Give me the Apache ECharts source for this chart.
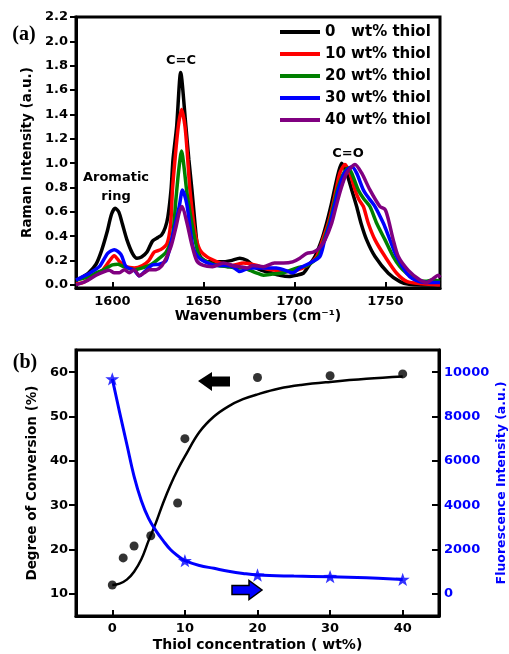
<!DOCTYPE html>
<html><head><meta charset="utf-8">
<script src="https://cdn.jsdelivr.net/npm/echarts@6/dist/echarts.min.js"></script>
<style>html,body{margin:0;padding:0;background:#fff}#c{width:509px;height:654px}</style>
</head><body><div id="c"></div>
<script>
const F = 'DejaVu Sans';
const legendNames = ['0   wt% thiol', '10 wt% thiol', '20 wt% thiol', '30 wt% thiol', '40 wt% thiol'];
const colors = ['#000000', '#ff0000', '#008000', '#0000ff', '#800080'];

// Raman spectra: [wavenumber, intensity]
const spec0 = [[1580,0.04],[1583,0.06],[1587,0.1],[1591,0.17],[1594,0.28],[1597,0.43],[1599.5,0.58],[1601.5,0.63],[1603.5,0.6],[1605.5,0.5],[1608,0.37],[1611,0.26],[1613.5,0.22],[1616,0.23],[1619,0.27],[1622,0.36],[1625,0.39],[1627,0.41],[1629,0.47],[1630.5,0.56],[1632.2,0.78],[1633.3,1.03],[1635.3,1.30],[1637.5,1.745],[1640.4,1.30],[1642,1.03],[1643.7,0.78],[1645.4,0.5],[1646.5,0.34],[1648,0.24],[1652,0.19],[1656,0.19],[1660,0.19],[1665,0.2],[1670,0.22],[1674,0.2],[1678,0.15],[1682,0.12],[1687,0.1],[1692,0.08],[1697,0.07],[1701,0.08],[1704.9,0.096],[1708,0.16],[1711.3,0.233],[1715,0.37],[1717.7,0.507],[1720,0.644],[1722,0.78],[1724.1,0.918],[1726,1.0],[1728.7,0.918],[1731.5,0.78],[1734.2,0.644],[1736.6,0.507],[1739.7,0.37],[1744.3,0.233],[1751.6,0.096],[1758,0.027],[1763,0.005],[1770,0.0],[1780,0.0]];
const spec10 = [[1580,0.01],[1584,0.02],[1589,0.07],[1594.5,0.12],[1598,0.19],[1601,0.24],[1604,0.19],[1607.5,0.15],[1612,0.14],[1616.5,0.16],[1620,0.2],[1623,0.27],[1626.5,0.29],[1630,0.34],[1632,0.5],[1633,0.78],[1634.4,1.03],[1636.2,1.30],[1638,1.44],[1639.9,1.30],[1641.4,1.03],[1642.6,0.78],[1645.4,0.43],[1648,0.29],[1652,0.23],[1657.5,0.19],[1662,0.17],[1666,0.16],[1672,0.18],[1679.5,0.16],[1685,0.13],[1690,0.12],[1696,0.11],[1701,0.12],[1707,0.16],[1712.2,0.233],[1715.5,0.37],[1718.6,0.507],[1721,0.65],[1722.9,0.78],[1725,0.92],[1727.8,0.99],[1730.5,0.918],[1733.3,0.78],[1735.5,0.7],[1737.9,0.644],[1740.6,0.507],[1744.3,0.37],[1749.8,0.233],[1756.2,0.096],[1762,0.027],[1770,0.01],[1780,0.0]];
const spec20 = [[1580,0.04],[1583,0.05],[1587.3,0.07],[1591,0.1],[1594.6,0.12],[1598,0.15],[1600,0.165],[1603,0.17],[1605.5,0.155],[1608,0.14],[1612,0.125],[1616.6,0.14],[1621,0.165],[1625.8,0.22],[1629.5,0.27],[1633,0.4],[1635,0.72],[1636.5,0.95],[1638,1.1],[1639.5,0.95],[1641,0.75],[1643.5,0.52],[1645.4,0.37],[1648,0.23],[1653.6,0.18],[1658,0.16],[1663,0.15],[1668,0.14],[1672,0.14],[1675.6,0.12],[1679,0.1],[1683,0.08],[1688,0.09],[1694,0.1],[1701.5,0.14],[1707,0.16],[1713.1,0.233],[1716,0.36],[1719.2,0.507],[1721.5,0.65],[1723.6,0.78],[1726.5,0.9],[1729.5,0.96],[1731.5,0.918],[1735.1,0.78],[1738,0.71],[1741.5,0.644],[1745.2,0.507],[1749.8,0.37],[1754.3,0.233],[1758,0.15],[1761.7,0.096],[1767.2,0.04],[1772,0.03],[1776,0.04],[1780,0.03]];
const spec30 = [[1580,0.04],[1584,0.07],[1587.3,0.095],[1592.8,0.15],[1597.4,0.26],[1601,0.29],[1604.7,0.25],[1607.5,0.15],[1612,0.12],[1614.8,0.075],[1618.5,0.12],[1622,0.165],[1625.8,0.17],[1629.5,0.2],[1633,0.4],[1636.8,0.65],[1638.5,0.78],[1640.8,0.67],[1642.6,0.48],[1644.3,0.31],[1647,0.23],[1651,0.19],[1657.5,0.16],[1662,0.16],[1666,0.15],[1670,0.11],[1675.6,0.14],[1682,0.14],[1690,0.14],[1695,0.12],[1699,0.1],[1703,0.14],[1708.6,0.18],[1714,0.233],[1716.5,0.36],[1719.6,0.507],[1722,0.65],[1724.1,0.78],[1727.5,0.92],[1731.5,0.97],[1734.2,0.918],[1737.9,0.78],[1741,0.71],[1744.3,0.644],[1748.9,0.507],[1750.7,0.44],[1752.5,0.37],[1756.2,0.233],[1761.7,0.096],[1765,0.05],[1769,0.027],[1775,0.02],[1780,0.02]];
const spec40 = [[1580,0.0],[1585.5,0.03],[1591,0.08],[1595.6,0.11],[1598.3,0.12],[1601,0.1],[1603.8,0.1],[1606.6,0.125],[1609.3,0.1],[1612,0.125],[1614.8,0.075],[1617.5,0.1],[1620.3,0.125],[1624,0.125],[1626.7,0.15],[1629.5,0.22],[1632.2,0.315],[1635,0.48],[1636.8,0.6],[1638.3,0.645],[1640.8,0.52],[1643.5,0.34],[1646.3,0.2],[1650,0.16],[1655,0.15],[1661,0.18],[1666,0.16],[1670,0.15],[1674,0.14],[1677,0.16],[1683,0.15],[1689,0.18],[1694,0.18],[1699,0.19],[1703,0.22],[1706.8,0.26],[1710.4,0.27],[1713.5,0.3],[1716.8,0.37],[1720.5,0.507],[1723,0.65],[1725.4,0.78],[1728.7,0.918],[1733.3,0.99],[1737,0.918],[1741.5,0.78],[1747,0.644],[1749.8,0.62],[1751.6,0.54],[1754.3,0.37],[1757.1,0.233],[1762.6,0.12],[1769,0.04],[1772.7,0.02],[1776,0.05],[1779,0.08],[1780,0.06]];
const spectra = [spec0, spec10, spec20, spec30, spec40];

const wnTicks = [1600, 1650, 1700, 1750];
const ramanTicks = [0, 0.2, 0.4, 0.6, 0.8, 1.0, 1.2, 1.4, 1.6, 1.8, 2.0, 2.2];

// Panel (b)
const concTicks = [0, 10, 20, 30, 40];
const convTicks = [10, 20, 30, 40, 50, 60];
const fluoTicks = [0, 2000, 4000, 6000, 8000, 10000];
const conc = [0, 1.5, 3, 5.3, 9, 10, 20, 30, 40];
const conversion = [12, 18.1, 20.8, 23.1, 30.5, 45, 58.8, 59.2, 59.6];
const fitConc = [0, 1, 2, 3, 4, 5, 6, 7, 8, 9, 10, 12, 14, 16, 18, 20, 23, 26, 30, 35, 40];
const fitConv = [12, 12.3, 13.2, 15, 17.8, 22, 26, 30.5, 34.5, 38, 41, 46.5, 50, 52.3, 53.9, 55, 56.3, 57.1, 57.8, 58.5, 59];
const fluoConc = [0, 10, 20, 30, 40];
const fluo = [9700, 1500, 850, 780, 650];
const fluoCurveConc = [0, 1, 2, 3, 4, 5, 6, 7, 8, 9, 10, 12, 14, 16, 18, 20, 25, 30, 35, 40];
const fluoCurve = [9700, 8200, 6750, 5300, 4200, 3400, 2850, 2400, 2000, 1720, 1500, 1280, 1150, 1020, 920, 850, 800, 770, 720, 650];

const zip = (a, b) => a.map((v, i) => [v, b[i]]);
const star = 'path://M0,-10L2.35,-3.24L9.51,-3.09L3.8,1.24L5.88,8.09L0,4L-5.88,8.09L-3.8,1.24L-9.51,-3.09L-2.35,-3.24Z';

const lab = (extra) => Object.assign({fontFamily: F, fontWeight: 'bold', fontSize: 13, color: '#000', formatter: v => String(v)}, extra || {});
const axLine = {show: true, onZero: false, lineStyle: {color: '#000', width: 3}};

const chart = echarts.init(document.getElementById('c'));
const series = [];
spectra.forEach((d, i) => {
  series.push({name: legendNames[i], type: 'line', xAxisIndex: 0, yAxisIndex: 0, data: d,
    showSymbol: false, smooth: 0.25, lineStyle: {color: colors[i], width: 3.5}, itemStyle: {color: colors[i]}, z: 2 + i});
});
series.push({type: 'line', xAxisIndex: 1, yAxisIndex: 1, data: zip(fitConc, fitConv), showSymbol: false, smooth: 0.4,
  lineStyle: {color: '#000', width: 2.5}, z: 3});
series.push({type: 'scatter', xAxisIndex: 1, yAxisIndex: 1, data: zip(conc, conversion), symbol: 'circle', symbolSize: 9,
  itemStyle: {color: '#000'}, z: 4});
series.push({type: 'line', xAxisIndex: 1, yAxisIndex: 2, data: zip(fluoCurveConc, fluoCurve), showSymbol: false, smooth: 0.4,
  lineStyle: {color: '#0000ff', width: 3}, z: 5});
series.push({type: 'scatter', xAxisIndex: 1, yAxisIndex: 2, data: zip(fluoConc, fluo), symbol: star, symbolSize: 14, symbolKeepAspect: true,
  itemStyle: {color: '#0000ff'}, z: 6});

const txt = (text, x, y, font, fill, rot) => ({type: 'text', x: x, y: y, rotation: rot || 0,
  style: {text: text, font: font, fill: fill || '#000', align: 'center', verticalAlign: 'middle', textAlign: 'center', textVerticalAlign: 'middle'}});

chart.setOption({
  animation: false,
  backgroundColor: '#fff',
  grid: [
    {left: 76, top: 17, right: 69, bottom: 366, show: true, borderColor: '#000', borderWidth: 3, outerBoundsMode: 'none', containLabel: false},
    {left: 76, top: 350, right: 70, bottom: 38, show: true, borderColor: '#000', borderWidth: 3, outerBoundsMode: 'none', containLabel: false}
  ],
  legend: {data: legendNames, orient: 'vertical', left: 280, top: 23, padding: 0, itemWidth: 40, itemHeight: 4, itemGap: 4, icon: 'rect',
    selectedMode: false, textStyle: {fontFamily: F, fontWeight: 'bold', fontSize: 15, color: '#000', lineHeight: 18}},
  xAxis: [
    {gridIndex: 0, type: 'value', min: 1580, max: 1780, axisLine: axLine,
      axisTick: {inside: true, length: 6, lineStyle: {color: '#000', width: 2}, customValues: wnTicks},
      axisLabel: lab({customValues: wnTicks, margin: 7}), splitLine: {show: false},
      name: 'Wavenumbers (cm\u207B\u00B9)', nameLocation: 'middle', nameGap: 21,
      nameTextStyle: {fontFamily: F, fontWeight: 'bold', fontSize: 14, color: '#000'}},
    {gridIndex: 1, type: 'value', min: -5, max: 45, axisLine: axLine,
      axisTick: {inside: true, length: 6, lineStyle: {color: '#000', width: 2}, customValues: concTicks},
      axisLabel: lab({customValues: concTicks, margin: 6}), splitLine: {show: false},
      name: 'Thiol concentration ( wt%)', nameLocation: 'middle', nameGap: 22,
      nameTextStyle: {fontFamily: F, fontWeight: 'bold', fontSize: 14, color: '#000'}}
  ],
  yAxis: [
    {gridIndex: 0, type: 'value', min: -0.025, max: 2.2, axisLine: axLine,
      axisTick: {inside: false, length: 6, lineStyle: {color: '#000', width: 2}, customValues: ramanTicks},
      axisLabel: lab({customValues: ramanTicks, margin: 8, formatter: v => v.toFixed(1)}), splitLine: {show: false},
      name: 'Raman Intensity (a.u.)', nameLocation: 'middle', nameGap: 40, nameRotate: 90,
      nameTextStyle: {fontFamily: F, fontWeight: 'bold', fontSize: 13.5, color: '#000'}},
    {gridIndex: 1, type: 'value', min: 5, max: 65, axisLine: axLine,
      axisTick: {inside: false, length: 7, lineStyle: {color: '#000', width: 2}, customValues: convTicks},
      axisLabel: lab({customValues: convTicks, margin: 8}), splitLine: {show: false},
      name: 'Degree of Conversion (%)', nameLocation: 'middle', nameGap: 37, nameRotate: 90,
      nameTextStyle: {fontFamily: F, fontWeight: 'bold', fontSize: 13.5, color: '#000'}},
    {gridIndex: 1, type: 'value', position: 'right', min: -1000, max: 11000, axisLine: axLine,
      axisTick: {inside: true, length: 7, lineStyle: {color: '#000', width: 2}, customValues: fluoTicks},
      axisLabel: lab({customValues: fluoTicks, margin: 5, color: '#0000ff'}), splitLine: {show: false},
      name: 'Fluorescence Intensity (a.u.)', nameLocation: 'middle', nameGap: 56, nameRotate: 90, nameMoveOverlap: false,
      nameTextStyle: {fontFamily: F, fontWeight: 'bold', fontSize: 12.5, color: '#0000ff'}}
  ],
  graphic: [
    txt('(a)', 24, 35, 'bold 20px "Liberation Serif"'),
    txt('(b)', 25, 363, 'bold 20px "Liberation Serif"'),
    txt('C=C', 181, 61, 'bold 13px "DejaVu Sans"'),
    txt('C=O', 348, 154, 'bold 13px "DejaVu Sans"'),
    txt('Aromatic', 116, 178, 'bold 13px "DejaVu Sans"'),
    txt('ring', 116, 197, 'bold 13px "DejaVu Sans"'),
    {type: 'polygon', shape: {points: [[198,381],[212,372],[212,376.5],[230,376.5],[230,386.5],[212,386.5],[212,391]]},
      style: {fill: '#000'}},
    {type: 'polygon', shape: {points: [[232,585.5],[249,585.5],[249,580.5],[262,590],[249,599.5],[249,594.5],[232,594.5]]},
      style: {fill: '#0000ff', stroke: '#000', lineWidth: 1.5}}
  ],
  series: series
});
</script></body></html>
